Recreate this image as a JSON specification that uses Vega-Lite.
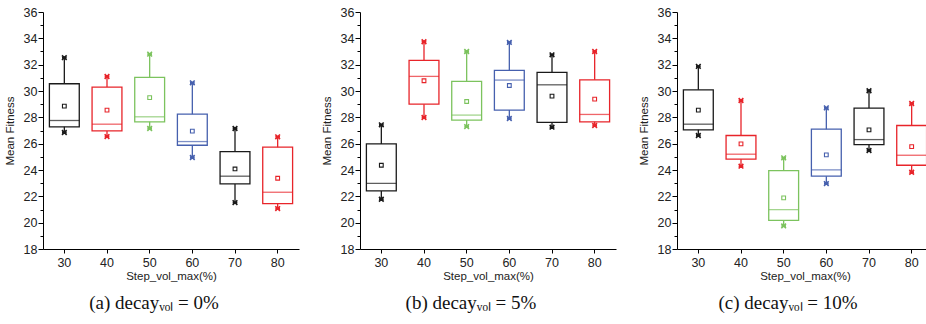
{
  "$schema": "https://vega.github.io/schema/vega-lite/v6.json",
  "padding": {"left": 4, "top": 6, "right": 0, "bottom": 0},
  "background": "white",
  "config": {
    "view": {"stroke": null},
    "font": "Liberation Sans",
    "axis": {
      "domainColor": "#000", "domainWidth": 1, "tickColor": "#000", "tickWidth": 1,
      "labelColor": "#222", "labelFontSize": 12.5, "titleFontSize": 11.5, "titleFontWeight": "normal", "titleColor": "#222", "grid": false
    },
    "title": {"font": "Liberation Serif", "fontSize": 19, "fontWeight": "normal", "color": "#111"},
    "concat": {"spacing": 22}
  },
  "data": {"values": [
    {"p": "a", "x": 30, "min": 26.85, "q1": 27.28, "med": 27.76, "q3": 30.55, "max": 32.53, "mean": 28.85},
    {"p": "a", "x": 40, "min": 26.54, "q1": 26.97, "med": 27.48, "q3": 30.3, "max": 31.1, "mean": 28.55},
    {"p": "a", "x": 50, "min": 27.15, "q1": 27.66, "med": 28.04, "q3": 31.03, "max": 32.8, "mean": 29.5},
    {"p": "a", "x": 60, "min": 24.95, "q1": 25.88, "med": 26.16, "q3": 28.24, "max": 30.62, "mean": 26.95},
    {"p": "a", "x": 70, "min": 21.52, "q1": 22.94, "med": 23.53, "q3": 25.4, "max": 27.15, "mean": 24.08},
    {"p": "a", "x": 80, "min": 21.07, "q1": 21.45, "med": 22.31, "q3": 25.73, "max": 26.52, "mean": 23.37},
    {"p": "b", "x": 30, "min": 21.78, "q1": 22.41, "med": 22.99, "q3": 25.98, "max": 27.43, "mean": 24.36},
    {"p": "b", "x": 40, "min": 27.99, "q1": 29.0, "med": 31.11, "q3": 32.32, "max": 33.74, "mean": 30.78},
    {"p": "b", "x": 50, "min": 27.3, "q1": 27.79, "med": 28.17, "q3": 30.73, "max": 33.0, "mean": 29.2},
    {"p": "b", "x": 60, "min": 27.91, "q1": 28.55, "med": 30.83, "q3": 31.56, "max": 33.69, "mean": 30.42},
    {"p": "b", "x": 70, "min": 27.25, "q1": 27.61, "med": 30.47, "q3": 31.41, "max": 32.75, "mean": 29.61},
    {"p": "b", "x": 80, "min": 27.38, "q1": 27.66, "med": 28.22, "q3": 30.85, "max": 33.0, "mean": 29.38},
    {"p": "c", "x": 30, "min": 26.62, "q1": 27.05, "med": 27.48, "q3": 30.09, "max": 31.87, "mean": 28.55},
    {"p": "c", "x": 40, "min": 24.29, "q1": 24.82, "med": 25.2, "q3": 26.62, "max": 29.28, "mean": 25.98},
    {"p": "c", "x": 50, "min": 19.75, "q1": 20.18, "med": 20.99, "q3": 23.96, "max": 24.92, "mean": 21.88},
    {"p": "c", "x": 60, "min": 22.97, "q1": 23.53, "med": 24.01, "q3": 27.1, "max": 28.72, "mean": 25.15},
    {"p": "c", "x": 70, "min": 25.48, "q1": 25.93, "med": 26.31, "q3": 28.7, "max": 30.02, "mean": 27.05},
    {"p": "c", "x": 80, "min": 23.83, "q1": 24.36, "med": 25.12, "q3": 27.38, "max": 29.05, "mean": 25.78}
  ]},
  "hconcat": [
    {
      "width": 256, "height": 237,
      "title": {"text": "(a) decayᵥₒₗ = 0%", "orient": "bottom", "dx": -17, "offset": 12},
      "transform": [{"filter": "datum.p == 'a'"}],
      "encoding": {
        "x": {"field": "x", "type": "ordinal", "title": "Step_vol_max(%)", "scale": {"paddingInner": 0, "paddingOuter": 0}, "axis": {"labelAngle": 0, "tickSize": 4, "labelPadding": 3, "titlePadding": 2}},
        "color": {"field": "x", "type": "nominal", "legend": null, "scale": {"domain": [30, 40, 50, 60, 70, 80], "range": ["#1a1a1a", "#e8242a", "#7cc35e", "#4660ae", "#1a1a1a", "#e8242a"]}}
      },
      "layer": [
        {"mark": {"type": "rule", "strokeWidth": 1.3}, "encoding": {"y": {"field": "min", "type": "quantitative", "title": "Mean Fitness", "scale": {"domain": [18, 36], "nice": false, "zero": false}, "axis": {"values": [18,19,20,21,22,23,24,25,26,27,28,29,30,31,32,33,34,35,36], "labelOverlap": false, "labelExpr": "datum.value % 2 == 0 ? datum.label : ''", "tickSize": {"condition": {"test": "datum.value % 2 == 0", "value": 5}, "value": 3}, "labelPadding": 1, "titlePadding": 8}}, "y2": {"field": "max"}}},
        {"mark": {"type": "bar", "fill": "white", "strokeWidth": 1.3, "width": {"band": 0.7}}, "encoding": {"y": {"field": "q1", "type": "quantitative", "title": "Mean Fitness", "axis": {"values": [18,19,20,21,22,23,24,25,26,27,28,29,30,31,32,33,34,35,36], "labelOverlap": false, "labelExpr": "datum.value % 2 == 0 ? datum.label : ''", "tickSize": {"condition": {"test": "datum.value % 2 == 0", "value": 5}, "value": 3}, "labelPadding": 1, "titlePadding": 8}}, "y2": {"field": "q3"}, "stroke": {"field": "x", "type": "nominal", "legend": null, "scale": {"domain": [30, 40, 50, 60, 70, 80], "range": ["#1a1a1a", "#e8242a", "#7cc35e", "#4660ae", "#1a1a1a", "#e8242a"]}}}},
        {"mark": {"type": "tick", "size": 30, "thickness": 1.3}, "encoding": {"y": {"field": "med", "type": "quantitative", "title": "Mean Fitness", "axis": {"values": [18,19,20,21,22,23,24,25,26,27,28,29,30,31,32,33,34,35,36], "labelOverlap": false, "labelExpr": "datum.value % 2 == 0 ? datum.label : ''", "tickSize": {"condition": {"test": "datum.value % 2 == 0", "value": 5}, "value": 3}, "labelPadding": 1, "titlePadding": 8}}}},
        {"mark": {"type": "point", "shape": "M-1,-1L1,1M-1,1L1,-1M-1,0L1,0", "size": 22, "strokeWidth": 1.6, "filled": false, "opacity": 1}, "encoding": {"y": {"field": "min", "type": "quantitative", "title": "Mean Fitness", "axis": {"values": [18,19,20,21,22,23,24,25,26,27,28,29,30,31,32,33,34,35,36], "labelOverlap": false, "labelExpr": "datum.value % 2 == 0 ? datum.label : ''", "tickSize": {"condition": {"test": "datum.value % 2 == 0", "value": 5}, "value": 3}, "labelPadding": 1, "titlePadding": 8}}}},
        {"mark": {"type": "point", "shape": "M-1,-1L1,1M-1,1L1,-1M-1,0L1,0", "size": 22, "strokeWidth": 1.6, "filled": false, "opacity": 1}, "encoding": {"y": {"field": "max", "type": "quantitative", "title": "Mean Fitness", "axis": {"values": [18,19,20,21,22,23,24,25,26,27,28,29,30,31,32,33,34,35,36], "labelOverlap": false, "labelExpr": "datum.value % 2 == 0 ? datum.label : ''", "tickSize": {"condition": {"test": "datum.value % 2 == 0", "value": 5}, "value": 3}, "labelPadding": 1, "titlePadding": 8}}}},
        {"mark": {"type": "point", "shape": "square", "size": 14, "strokeWidth": 1.1, "filled": false, "opacity": 1}, "encoding": {"y": {"field": "mean", "type": "quantitative", "title": "Mean Fitness", "axis": {"values": [18,19,20,21,22,23,24,25,26,27,28,29,30,31,32,33,34,35,36], "labelOverlap": false, "labelExpr": "datum.value % 2 == 0 ? datum.label : ''", "tickSize": {"condition": {"test": "datum.value % 2 == 0", "value": 5}, "value": 3}, "labelPadding": 1, "titlePadding": 8}}}}
      ]
    },
    {
      "width": 256, "height": 237,
      "title": {"text": "(b) decayᵥₒₗ = 5%", "orient": "bottom", "dx": -17, "offset": 12},
      "transform": [{"filter": "datum.p == 'b'"}],
      "encoding": {
        "x": {"field": "x", "type": "ordinal", "title": "Step_vol_max(%)", "scale": {"paddingInner": 0, "paddingOuter": 0}, "axis": {"labelAngle": 0, "tickSize": 4, "labelPadding": 3, "titlePadding": 2}},
        "color": {"field": "x", "type": "nominal", "legend": null, "scale": {"domain": [30, 40, 50, 60, 70, 80], "range": ["#1a1a1a", "#e8242a", "#7cc35e", "#4660ae", "#1a1a1a", "#e8242a"]}}
      },
      "layer": [
        {"mark": {"type": "rule", "strokeWidth": 1.3}, "encoding": {"y": {"field": "min", "type": "quantitative", "title": "Mean Fitness", "scale": {"domain": [18, 36], "nice": false, "zero": false}, "axis": {"values": [18,19,20,21,22,23,24,25,26,27,28,29,30,31,32,33,34,35,36], "labelOverlap": false, "labelExpr": "datum.value % 2 == 0 ? datum.label : ''", "tickSize": {"condition": {"test": "datum.value % 2 == 0", "value": 5}, "value": 3}, "labelPadding": 1, "titlePadding": 8}}, "y2": {"field": "max"}}},
        {"mark": {"type": "bar", "fill": "white", "strokeWidth": 1.3, "width": {"band": 0.7}}, "encoding": {"y": {"field": "q1", "type": "quantitative", "title": "Mean Fitness", "axis": {"values": [18,19,20,21,22,23,24,25,26,27,28,29,30,31,32,33,34,35,36], "labelOverlap": false, "labelExpr": "datum.value % 2 == 0 ? datum.label : ''", "tickSize": {"condition": {"test": "datum.value % 2 == 0", "value": 5}, "value": 3}, "labelPadding": 1, "titlePadding": 8}}, "y2": {"field": "q3"}, "stroke": {"field": "x", "type": "nominal", "legend": null, "scale": {"domain": [30, 40, 50, 60, 70, 80], "range": ["#1a1a1a", "#e8242a", "#7cc35e", "#4660ae", "#1a1a1a", "#e8242a"]}}}},
        {"mark": {"type": "tick", "size": 30, "thickness": 1.3}, "encoding": {"y": {"field": "med", "type": "quantitative", "title": "Mean Fitness", "axis": {"values": [18,19,20,21,22,23,24,25,26,27,28,29,30,31,32,33,34,35,36], "labelOverlap": false, "labelExpr": "datum.value % 2 == 0 ? datum.label : ''", "tickSize": {"condition": {"test": "datum.value % 2 == 0", "value": 5}, "value": 3}, "labelPadding": 1, "titlePadding": 8}}}},
        {"mark": {"type": "point", "shape": "M-1,-1L1,1M-1,1L1,-1M-1,0L1,0", "size": 22, "strokeWidth": 1.6, "filled": false, "opacity": 1}, "encoding": {"y": {"field": "min", "type": "quantitative", "title": "Mean Fitness", "axis": {"values": [18,19,20,21,22,23,24,25,26,27,28,29,30,31,32,33,34,35,36], "labelOverlap": false, "labelExpr": "datum.value % 2 == 0 ? datum.label : ''", "tickSize": {"condition": {"test": "datum.value % 2 == 0", "value": 5}, "value": 3}, "labelPadding": 1, "titlePadding": 8}}}},
        {"mark": {"type": "point", "shape": "M-1,-1L1,1M-1,1L1,-1M-1,0L1,0", "size": 22, "strokeWidth": 1.6, "filled": false, "opacity": 1}, "encoding": {"y": {"field": "max", "type": "quantitative", "title": "Mean Fitness", "axis": {"values": [18,19,20,21,22,23,24,25,26,27,28,29,30,31,32,33,34,35,36], "labelOverlap": false, "labelExpr": "datum.value % 2 == 0 ? datum.label : ''", "tickSize": {"condition": {"test": "datum.value % 2 == 0", "value": 5}, "value": 3}, "labelPadding": 1, "titlePadding": 8}}}},
        {"mark": {"type": "point", "shape": "square", "size": 14, "strokeWidth": 1.1, "filled": false, "opacity": 1}, "encoding": {"y": {"field": "mean", "type": "quantitative", "title": "Mean Fitness", "axis": {"values": [18,19,20,21,22,23,24,25,26,27,28,29,30,31,32,33,34,35,36], "labelOverlap": false, "labelExpr": "datum.value % 2 == 0 ? datum.label : ''", "tickSize": {"condition": {"test": "datum.value % 2 == 0", "value": 5}, "value": 3}, "labelPadding": 1, "titlePadding": 8}}}}
      ]
    },
    {
      "width": 256, "height": 237,
      "title": {"text": "(c) decayᵥₒₗ = 10%", "orient": "bottom", "dx": -17, "offset": 12},
      "transform": [{"filter": "datum.p == 'c'"}],
      "encoding": {
        "x": {"field": "x", "type": "ordinal", "title": "Step_vol_max(%)", "scale": {"paddingInner": 0, "paddingOuter": 0}, "axis": {"labelAngle": 0, "tickSize": 4, "labelPadding": 3, "titlePadding": 2}},
        "color": {"field": "x", "type": "nominal", "legend": null, "scale": {"domain": [30, 40, 50, 60, 70, 80], "range": ["#1a1a1a", "#e8242a", "#7cc35e", "#4660ae", "#1a1a1a", "#e8242a"]}}
      },
      "layer": [
        {"mark": {"type": "rule", "strokeWidth": 1.3}, "encoding": {"y": {"field": "min", "type": "quantitative", "title": "Mean Fitness", "scale": {"domain": [18, 36], "nice": false, "zero": false}, "axis": {"values": [18,19,20,21,22,23,24,25,26,27,28,29,30,31,32,33,34,35,36], "labelOverlap": false, "labelExpr": "datum.value % 2 == 0 ? datum.label : ''", "tickSize": {"condition": {"test": "datum.value % 2 == 0", "value": 5}, "value": 3}, "labelPadding": 1, "titlePadding": 8}}, "y2": {"field": "max"}}},
        {"mark": {"type": "bar", "fill": "white", "strokeWidth": 1.3, "width": {"band": 0.7}}, "encoding": {"y": {"field": "q1", "type": "quantitative", "title": "Mean Fitness", "axis": {"values": [18,19,20,21,22,23,24,25,26,27,28,29,30,31,32,33,34,35,36], "labelOverlap": false, "labelExpr": "datum.value % 2 == 0 ? datum.label : ''", "tickSize": {"condition": {"test": "datum.value % 2 == 0", "value": 5}, "value": 3}, "labelPadding": 1, "titlePadding": 8}}, "y2": {"field": "q3"}, "stroke": {"field": "x", "type": "nominal", "legend": null, "scale": {"domain": [30, 40, 50, 60, 70, 80], "range": ["#1a1a1a", "#e8242a", "#7cc35e", "#4660ae", "#1a1a1a", "#e8242a"]}}}},
        {"mark": {"type": "tick", "size": 30, "thickness": 1.3}, "encoding": {"y": {"field": "med", "type": "quantitative", "title": "Mean Fitness", "axis": {"values": [18,19,20,21,22,23,24,25,26,27,28,29,30,31,32,33,34,35,36], "labelOverlap": false, "labelExpr": "datum.value % 2 == 0 ? datum.label : ''", "tickSize": {"condition": {"test": "datum.value % 2 == 0", "value": 5}, "value": 3}, "labelPadding": 1, "titlePadding": 8}}}},
        {"mark": {"type": "point", "shape": "M-1,-1L1,1M-1,1L1,-1M-1,0L1,0", "size": 22, "strokeWidth": 1.6, "filled": false, "opacity": 1}, "encoding": {"y": {"field": "min", "type": "quantitative", "title": "Mean Fitness", "axis": {"values": [18,19,20,21,22,23,24,25,26,27,28,29,30,31,32,33,34,35,36], "labelOverlap": false, "labelExpr": "datum.value % 2 == 0 ? datum.label : ''", "tickSize": {"condition": {"test": "datum.value % 2 == 0", "value": 5}, "value": 3}, "labelPadding": 1, "titlePadding": 8}}}},
        {"mark": {"type": "point", "shape": "M-1,-1L1,1M-1,1L1,-1M-1,0L1,0", "size": 22, "strokeWidth": 1.6, "filled": false, "opacity": 1}, "encoding": {"y": {"field": "max", "type": "quantitative", "title": "Mean Fitness", "axis": {"values": [18,19,20,21,22,23,24,25,26,27,28,29,30,31,32,33,34,35,36], "labelOverlap": false, "labelExpr": "datum.value % 2 == 0 ? datum.label : ''", "tickSize": {"condition": {"test": "datum.value % 2 == 0", "value": 5}, "value": 3}, "labelPadding": 1, "titlePadding": 8}}}},
        {"mark": {"type": "point", "shape": "square", "size": 14, "strokeWidth": 1.1, "filled": false, "opacity": 1}, "encoding": {"y": {"field": "mean", "type": "quantitative", "title": "Mean Fitness", "axis": {"values": [18,19,20,21,22,23,24,25,26,27,28,29,30,31,32,33,34,35,36], "labelOverlap": false, "labelExpr": "datum.value % 2 == 0 ? datum.label : ''", "tickSize": {"condition": {"test": "datum.value % 2 == 0", "value": 5}, "value": 3}, "labelPadding": 1, "titlePadding": 8}}}}
      ]
    }
  ]
}
